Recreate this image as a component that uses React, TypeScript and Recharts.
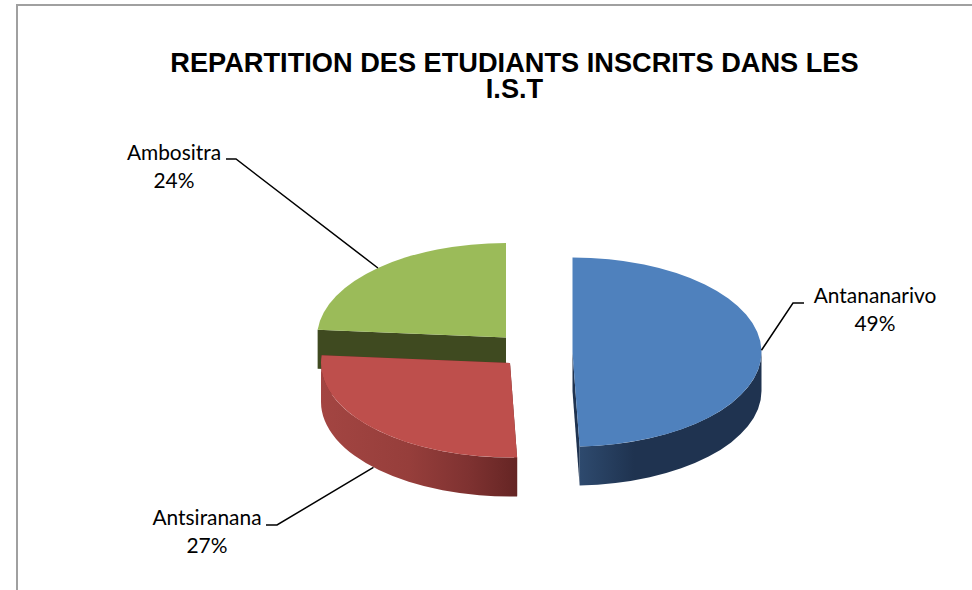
import React from "react";
import { PieChart, Pie } from "recharts";

const CATEGORIES = ["Ambositra", "Antsiranana", "Antananarivo"];
const VALUES = [23.7, 26.9, 49.4];
const TITLE_LINES = ["REPARTITION DES ETUDIANTS INSCRITS DANS LES", "I.S.T"];

const chartData = CATEGORIES.map((name, i) => ({ name, value: VALUES[i] }));

const SQUASH = 0.5;
const DEPTH = 39;
const RAD = Math.PI / 180;
const LABEL_FONT = "Lato, 'Open Sans', sans-serif";

type SliceStyle = {
  dx: number; dy: number; top: string; side: string; wallStops: [number, string][];
  elbow: [number, number]; lineEnd: [number, number]; textX: number; textY: number; wallAnchor: boolean;
};

const SLICE_STYLES: Record<string, SliceStyle> = {
  Ambositra: {
    dx: -24, dy: -12.5, top: "#9bbb59", side: "#3f4a20",
    wallStops: [[0, "#3f4a20"], [1, "#3f4a20"]],
    elbow: [236, 159], lineEnd: [226, 159], textX: 174, textY: 160, wallAnchor: false,
  },
  Antsiranana: {
    dx: -20, dy: 13, top: "#be4f4c", side: "#652524",
    wallStops: [[0, "#a34542"], [0.45, "#963e3b"], [0.75, "#7f3231"], [1, "#652524"]],
    elbow: [277, 525], lineEnd: [266, 525], textX: 207, textY: 525, wallAnchor: true,
  },
  Antananarivo: {
    dx: 42.5, dy: 2, top: "#4f81bd", side: "#1f3350",
    wallStops: [[0, "#2e4a6e"], [0.3, "#1f3350"], [1, "#1f3350"]],
    elbow: [793, 303], lineEnd: [804, 303], textX: 875, textY: 303, wallAnchor: false,
  },
};

const pt = (cx: number, cy: number, r: number, a: number): [number, number] => [
  cx + r * Math.cos(a * RAD),
  cy - r * SQUASH * Math.sin(a * RAD),
];

const Slice3D = (props: any) => {
  const { cx, cy, outerRadius: r, startAngle, endAngle, name } = props;
  const s = SLICE_STYLES[name];
  const a1 = Math.min(startAngle, endAngle);
  const a2 = Math.max(startAngle, endAngle);
  const ox = cx + s.dx;
  const oy = cy + s.dy;
  const ry = r * SQUASH;
  const [x1, y1] = pt(ox, oy, r, a1);
  const [x2, y2] = pt(ox, oy, r, a2);
  const large = a2 - a1 > 180 ? 1 : 0;
  const top = `M${ox},${oy}L${x1},${y1}A${r},${ry} 0 ${large} 0 ${x2},${y2}Z`;
  const radial = (x: number, y: number) =>
    `M${ox},${oy}L${x},${y}L${x},${y + DEPTH}L${ox},${oy + DEPTH}Z`;
  const w1 = Math.max(a1, 180);
  const w2 = Math.min(a2, 360);
  let wall: string | null = null;
  if (w2 > w1) {
    const [wx1, wy1] = pt(ox, oy, r, w1);
    const [wx2, wy2] = pt(ox, oy, r, w2);
    wall = `M${wx1},${wy1}A${r},${ry} 0 0 0 ${wx2},${wy2}L${wx2},${wy2 + DEPTH}A${r},${ry} 0 0 1 ${wx1},${wy1 + DEPTH}Z`;
  }
  const gid = `wall-${name}`;
  return (
    <g>
      <defs>
        <linearGradient id={gid} x1="0" y1="0" x2="1" y2="0">
          {s.wallStops.map(([o, c]) => (
            <stop key={o} offset={o} stopColor={c} />
          ))}
        </linearGradient>
      </defs>
      <path d={radial(x1, y1)} fill={s.side} />
      <path d={radial(x2, y2)} fill={s.side} />
      {wall && <path d={wall} fill={`url(#${gid})`} />}
      <path d={top} fill={s.top} />
    </g>
  );
};

const SliceLabel = (props: any) => {
  const { cx, cy, outerRadius: r, midAngle, percent, name } = props;
  const s = SLICE_STYLES[name];
  const [ax, ay] = pt(cx + s.dx, cy + s.dy + (s.wallAnchor ? DEPTH : 0), r, midAngle);
  return (
    <g>
      <polyline
        points={`${ax},${ay} ${s.elbow[0]},${s.elbow[1]} ${s.lineEnd[0]},${s.lineEnd[1]}`}
        fill="none"
        stroke="#000"
        strokeWidth={1.5}
      />
      <text x={s.textX} y={s.textY} textAnchor="middle" fontFamily={LABEL_FONT} fontSize={20.9} fill="#000">
        {name}
      </text>
      <text x={s.textX} y={s.textY + 27.5} textAnchor="middle" fontFamily={LABEL_FONT} fontSize={20.9} fill="#000">
        {`${Math.round(percent * 100)}%`}
      </text>
    </g>
  );
};

export default function App() {
  return (
    <div style={{ position: "absolute", left: 0, top: 0, width: 972, height: 590, overflow: "hidden", background: "#fff" }}>
      <div style={{ position: "absolute", left: 16, top: 4, width: 1000, height: 700, border: "2px solid #a0a0a0" }} />
      <div style={{ position: "absolute", left: 0, top: 0 }}>
        <PieChart width={972} height={590} margin={{ top: 0, right: 0, bottom: 0, left: 0 }}>
          {TITLE_LINES.map((line, i) => (
            <text
              key={line}
              x={514.5}
              y={72 + i * 26}
              textAnchor="middle"
              fontFamily="'Liberation Sans', Arial, sans-serif"
              fontWeight="bold"
              fontSize={27.2}
              fill="#000"
            >
              {line}
            </text>
          ))}
          <Pie
            data={chartData}
            dataKey="value"
            nameKey="name"
            cx={530}
            cy={350}
            innerRadius={0}
            outerRadius={189}
            startAngle={90}
            endAngle={450}
            stroke="none"
            shape={Slice3D}
            label={SliceLabel}
            labelLine={false}
            isAnimationActive={false}
          />
        </PieChart>
      </div>
    </div>
  );
}
